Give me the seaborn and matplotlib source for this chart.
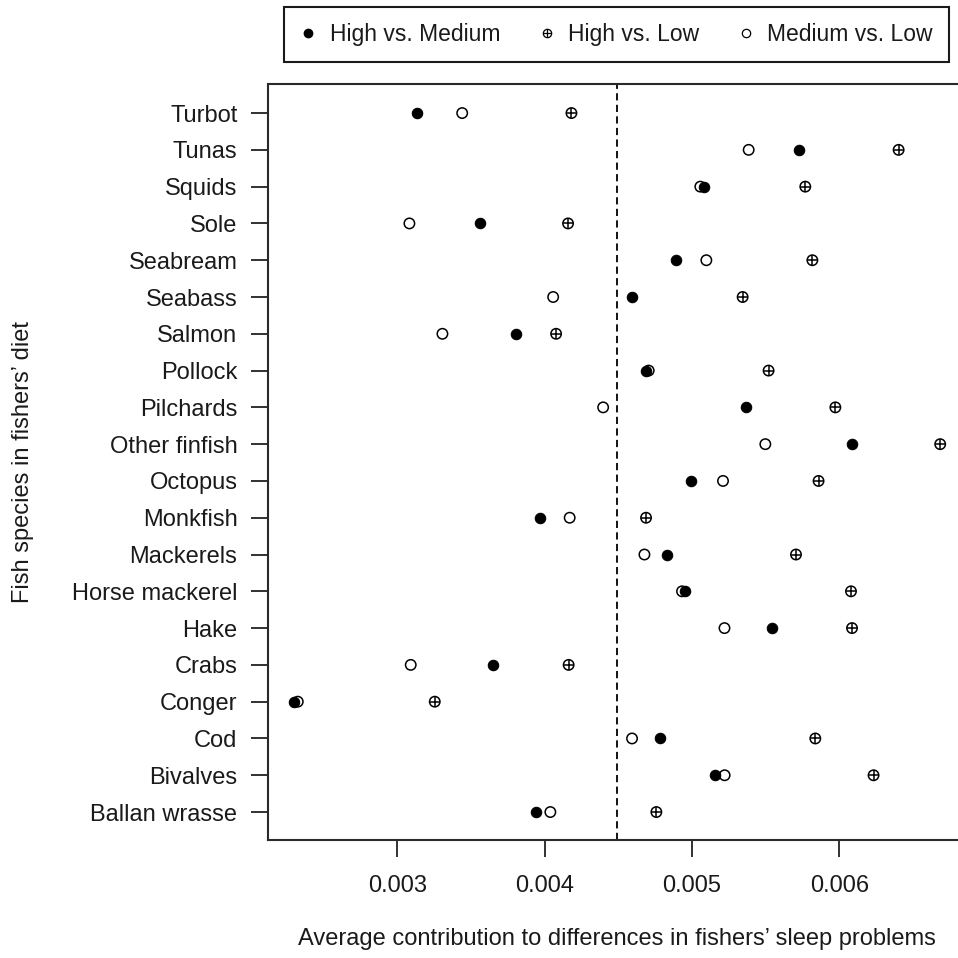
import numpy as np
import pandas as pd
import seaborn as sns
import matplotlib.pyplot as plt
from matplotlib.lines import Line2D

# Values (top row first)
species = ["Turbot", "Tunas", "Squids", "Sole", "Seabream", "Seabass", "Salmon",
           "Pollock", "Pilchards", "Other finfish", "Octopus", "Monkfish",
           "Mackerels", "Horse mackerel", "Hake", "Crabs", "Conger", "Cod",
           "Bivalves", "Ballan wrasse"]
high_vs_medium = [0.003136, 0.005727, 0.005079, 0.003565, 0.004894, 0.004593, 0.003809,
                  0.004688, 0.005366, 0.006085, 0.004995, 0.003967, 0.004831, 0.004955,
                  0.005542, 0.003648, 0.002299, 0.004780, 0.005158, 0.003944]
high_vs_low = [0.004182, 0.006401, 0.005768, 0.004159, 0.005816, 0.005343, 0.004078,
               0.005519, 0.005972, 0.006683, 0.005858, 0.004688, 0.005705, 0.006078,
               0.006085, 0.004163, 0.003255, 0.005836, 0.006231, 0.004758]
medium_vs_low = [0.003441, 0.005384, 0.005056, 0.003083, 0.005097, 0.004058, 0.003307,
                 0.004706, 0.004397, 0.005497, 0.005210, 0.004170, 0.004677, 0.004932,
                 0.005220, 0.003092, 0.002326, 0.004593, 0.005221, 0.004039]
mean_contribution = 0.00449
x_ticks = [0.003, 0.004, 0.005, 0.006]
x_tick_labels = ["0.003", "0.004", "0.005", "0.006"]

df = pd.DataFrame({"species": species,
                   "High vs. Medium": high_vs_medium,
                   "High vs. Low": high_vs_low,
                   "Medium vs. Low": medium_vs_low})
df["pos"] = np.arange(len(df), 0, -1)
long = df.melt(id_vars=["species", "pos"], var_name="comparison", value_name="contribution")

sns.set_style("ticks")
plt.rcParams["font.family"] = ["Liberation Sans", "DejaVu Sans"]
plt.rcParams["text.color"] = "#1a1a1a"
plt.rcParams["axes.labelcolor"] = "#1a1a1a"
plt.rcParams["xtick.color"] = "#1a1a1a"
plt.rcParams["ytick.color"] = "#1a1a1a"

FS = 17
W = 958
fig = plt.figure(figsize=(W / 100, W / 100), dpi=100)
ax = fig.add_axes([268 / W, 1 - 840 / W, (966 - 268) / W, (840 - 84) / W])

ax.axvline(mean_contribution, color="black", lw=1.3, ls=(0, (4, 2.4)), zorder=1)

pt_size = 56
hm = long[long.comparison == "High vs. Medium"]
hl = long[long.comparison == "High vs. Low"]
ml = long[long.comparison == "Medium vs. Low"]

sns.scatterplot(data=hm, x="contribution", y="pos", marker="o", s=pt_size,
                color="black", edgecolor="black", linewidth=0.8, legend=False, ax=ax, zorder=3)
sns.scatterplot(data=hl, x="contribution", y="pos", marker="o", s=pt_size,
                facecolor="none", edgecolor="black", linewidth=1.1, legend=False, ax=ax, zorder=3)
sns.scatterplot(data=hl, x="contribution", y="pos", marker="+", s=pt_size * 1.1,
                color="black", linewidth=1.1, legend=False, ax=ax, zorder=3)
sns.scatterplot(data=ml, x="contribution", y="pos", marker="o", s=pt_size,
                facecolor="none", edgecolor="black", linewidth=1.1, legend=False, ax=ax, zorder=4)

ax.set_xlim(0.002124, 0.006858)
ax.set_ylim(0.24, 20.79)
ax.set_xticks(x_ticks)
ax.set_xticklabels(x_tick_labels, fontsize=FS)
ax.set_yticks(df["pos"])
ax.set_yticklabels(species, fontsize=FS)
ax.tick_params(axis="both", direction="out", length=12, width=1.3, color="#222222")
ax.tick_params(axis="x", pad=13)
ax.tick_params(axis="y", pad=10)
for sp in ax.spines.values():
    sp.set_visible(True)
    sp.set_linewidth(1.5)
    sp.set_color("#2a2a2a")

ax.set_xlabel("Average contribution to differences in fishers\u2019 sleep problems", fontsize=FS)
ax.set_ylabel("Fish species in fishers\u2019 diet", fontsize=FS)
ax.xaxis.set_label_coords(0.5, (840 - 928) / 756)
ax.yaxis.set_label_coords((34 - 268) / 698, 0.5)

ms = 6
handles = [
    Line2D([], [], ls="none", marker="o", ms=ms, mfc="black", mec="black"),
    (Line2D([], [], ls="none", marker="o", ms=ms, mfc="none", mec="black", mew=0.9),
     Line2D([], [], ls="none", marker="+", ms=ms, mec="black", mew=0.9)),
    Line2D([], [], ls="none", marker="o", ms=ms, mfc="none", mec="black", mew=0.9),
]
labels = ["High vs. Medium", "High vs. Low", "Medium vs. Low"]
leg = fig.legend(handles, labels, loc="upper left", ncol=3, mode="expand",
                 bbox_to_anchor=(284 / W, 1 - 66 / W, (949 - 284) / W, (66 - 7) / W),
                 fontsize=FS - 0.5, frameon=True, fancybox=False, borderpad=0.7,
                 handlelength=0.7, handletextpad=0.6, borderaxespad=0)
leg.get_frame().set_edgecolor("#1a1a1a")
leg.get_frame().set_linewidth(1.5)
leg.get_frame().set_alpha(1)

fig.savefig("out.png", dpi=100)
